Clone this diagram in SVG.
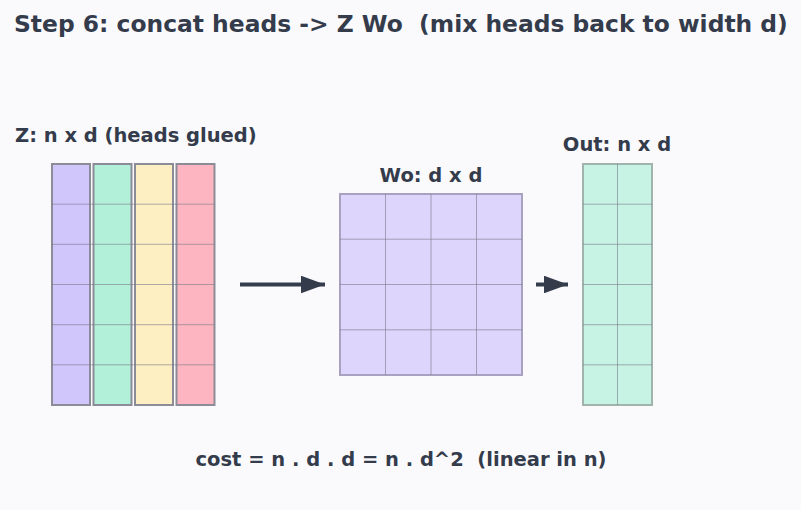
<svg xmlns="http://www.w3.org/2000/svg" width="801" height="510" viewBox="0 0 801 510">
<style>
text{font-family:"DejaVu Sans",sans-serif;font-weight:bold;fill:#343c4c;white-space:pre}
.t{font-size:23.4px}
.l{font-size:19.5px}
.zc{stroke:#8c8c98;stroke-width:2}
.g{stroke:#7a7a88;stroke-width:1;stroke-opacity:0.6;fill:none}
.arr{stroke:#343c4c;stroke-width:4;fill:none}
</style>
<defs>
<marker id="ah" markerWidth="6" markerHeight="4.4" refX="6" refY="2.2" orient="auto" markerUnits="strokeWidth">
<path d="M0,0 L6,2.2 L0,4.4 Z" fill="#343c4c"/>
</marker>
</defs>
<rect width="801" height="510" fill="#fafafd"/>
<text class="t" x="14" y="32" xml:space="preserve">Step 6: concat heads -&gt; Z Wo  (mix heads back to width d)</text>
<g id="Z">
<text class="l" x="15" y="142">Z: n x d (heads glued)</text>
<rect class="zc" x="52" y="164" width="38" height="241" fill="#d0c6fb"/>
<rect class="zc" x="93.5" y="164" width="38" height="241" fill="#b3f0d9"/>
<rect class="zc" x="135" y="164" width="38" height="241" fill="#fdefc2"/>
<rect class="zc" x="176.5" y="164" width="38" height="241" fill="#fdb6c1"/>
<path class="g" d="M52,204.2H214.5M52,244.3H214.5M52,284.5H214.5M52,324.7H214.5M52,364.8H214.5"/>
</g>
<g id="Wo">
<text class="l" x="431" y="182" text-anchor="middle">Wo: d x d</text>
<rect x="340" y="194" width="182" height="181" fill="#ddd5fb" stroke="#a8a2c0" stroke-width="2"/>
<path class="g" d="M385.5,194V375M431,194V375M476.5,194V375M340,239.2H522M340,284.5H522M340,329.8H522"/>
</g>
<g id="Out">
<text class="l" x="617" y="151" text-anchor="middle">Out: n x d</text>
<rect x="583" y="164" width="69" height="241" fill="#c7f3e4" stroke="#a0b4ac" stroke-width="2"/>
<path class="g" d="M617.5,164V405M583,204.2H652M583,244.3H652M583,284.5H652M583,324.7H652M583,364.8H652"/>
</g>
<g id="connectors">
<line class="arr" x1="240" y1="284.5" x2="325" y2="284.5" marker-end="url(#ah)"/>
<line class="arr" x1="536" y1="284.5" x2="568" y2="284.5" marker-end="url(#ah)"/>
</g>
<text class="l" x="401" y="466" text-anchor="middle" xml:space="preserve">cost = n . d . d = n . d^2  (linear in n)</text>
</svg>
